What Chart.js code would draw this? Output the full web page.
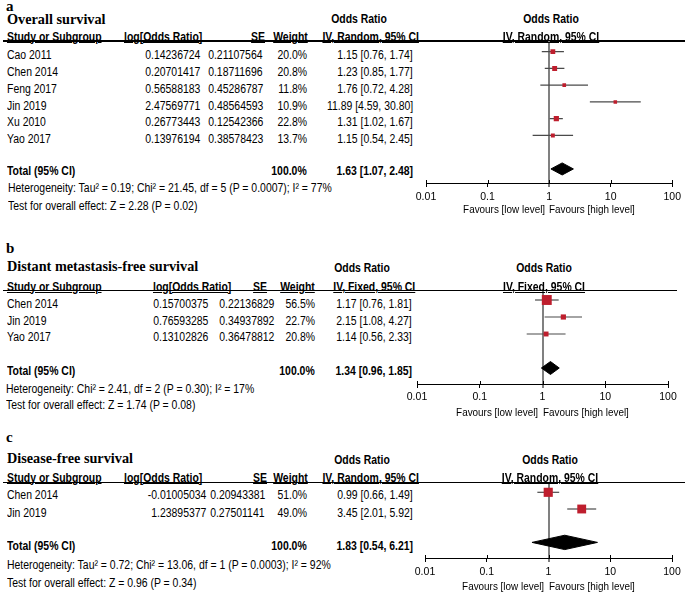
<!DOCTYPE html>
<html><head><meta charset="utf-8">
<script src="https://cdn.jsdelivr.net/npm/chart.js@4/dist/chart.umd.min.js"></script>
<style>
html,body{margin:0;padding:0;background:#fff;}
#page{position:relative;width:685px;height:595px;overflow:hidden;font-family:"Liberation Sans",Arial,sans-serif;color:#000;}
.t{position:absolute;white-space:nowrap;line-height:14px;height:14px;}
canvas{position:absolute;}
.hl{position:absolute;background:#000;}
</style></head><body><div id="page"></div>
<script>
// ================= DATA =================
const axisTicks = [0.01, 0.1, 1, 10, 100];
const axisTickLabels = ["0.01", "0.1", "1", "10", "100"];

// (a) Overall survival
const osStudies = ["Cao 2011", "Chen 2014", "Feng 2017", "Jin 2019", "Xu 2010", "Yao 2017"];
const osLogOR  = [0.14236724, 0.20701417, 0.56588183, 2.47569771, 0.26773443, 0.13976194];
const osSE     = [0.21107564, 0.18711696, 0.45286787, 0.48564593, 0.12542366, 0.38578423];
const osWeight = [20.0, 20.8, 11.8, 10.9, 22.8, 13.7];
const osOR     = [1.15, 1.23, 1.76, 11.89, 1.31, 1.15];
const osLo     = [0.76, 0.85, 0.72, 4.59, 1.02, 0.54];
const osHi     = [1.74, 1.77, 4.28, 30.80, 1.67, 2.45];
const osTotal  = [1.63, 1.07, 2.48];
const osHet    = "Heterogeneity: Tau² = 0.19; Chi² = 21.45, df = 5 (P = 0.0007); I² = 77%";
const osTest   = "Test for overall effect: Z = 2.28 (P = 0.02)";

// (b) Distant metastasis-free survival
const dmStudies = ["Chen 2014", "Jin 2019", "Yao 2017"];
const dmLogOR  = [0.15700375, 0.76593285, 0.13102826];
const dmSE     = [0.22136829, 0.34937892, 0.36478812];
const dmWeight = [56.5, 22.7, 20.8];
const dmOR     = [1.17, 2.15, 1.14];
const dmLo     = [0.76, 1.08, 0.56];
const dmHi     = [1.81, 4.27, 2.33];
const dmTotal  = [1.34, 0.96, 1.85];
const dmHet    = "Heterogeneity: Chi² = 2.41, df = 2 (P = 0.30); I² = 17%";
const dmTest   = "Test for overall effect: Z = 1.74 (P = 0.08)";

// (c) Disease-free survival
const dfStudies = ["Chen 2014", "Jin 2019"];
const dfLogOR  = [-0.01005034, 1.23895377];
const dfSE     = [0.20943381, 0.27501141];
const dfWeight = [51.0, 49.0];
const dfOR     = [0.99, 3.45];
const dfLo     = [0.66, 2.01];
const dfHi     = [1.49, 5.92];
const dfTotal  = [1.83, 0.54, 6.21];
const dfHet    = "Heterogeneity: Tau² = 0.72; Chi² = 13.06, df = 1 (P = 0.0003); I² = 92%";
const dfTest   = "Test for overall effect: Z = 0.96 (P = 0.34)";

// ================= LAYOUT / STYLE =================
const RED = "#BE1E2D";
const FONT = '"Liberation Sans", Arial, sans-serif';
const TXT = 12, SQZ = 0.87;
Chart.defaults.font.family = FONT;

const layoutA = {
  letter: "a", letterY: 6, title: "Overall survival", titleY: 19,
  orHeadX: 359, orHeadY: 19, headY: 36.5, method: "IV, Random, 95% CI",
  line: { y: 41, x0: 3, x1: 685 },
  col: { study: 7, logHead: 124, seHead: 265, wHead: 308, ciHead: 419, logVal: 200, seVal: 263, wVal: 307, ciVal: 413 },
  rowY0: 55, rowDy: 16.85, totalY: 171, hetY: 188, testY: 206, hetX: 8,
  plot: { left: 426, right: 673, top: 41, bottom: 183, sq0: 51.7, sqDy: 16.75, totalRow: 7, dHalf: 0.36, favY: 209, tickPad: 4 }
};
const layoutB = {
  letter: "b", letterY: 248, title: "Distant metastasis-free survival", titleY: 266,
  orHeadX: 362, orHeadY: 268, headY: 286.5, method: "IV, Fixed, 95% CI",
  line: { y: 290.5, x0: 3, x1: 677 },
  col: { study: 7, logHead: 153, seHead: 267, wHead: 315, ciHead: 415, logVal: 208, seVal: 274, wVal: 315, ciVal: 412 },
  rowY0: 304, rowDy: 16.5, totalY: 371, hetY: 389, testY: 405, hetX: 6,
  plot: { left: 417, right: 668, top: 291, bottom: 384, sq0: 300, sqDy: 17, totalRow: 4, dHalf: 0.38, favY: 412, tickPad: 3 }
};
const layoutC = {
  letter: "c", letterY: 437, title: "Disease-free survival", titleY: 458,
  orHeadX: 362, orHeadY: 460, headY: 477.5, method: "IV, Random, 95% CI",
  line: { y: 482.5, x0: 3, x1: 685 },
  col: { study: 7, logHead: 124, seHead: 267, wHead: 308, ciHead: 419, logVal: 206, seVal: 265, wVal: 307, ciVal: 413 },
  rowY0: 494.5, rowDy: 18.5, totalY: 546, hetY: 565, testY: 583, hetX: 7,
  plot: { left: 425, right: 672, top: 483, bottom: 558, sq0: 492.3, sqDy: 16.7, totalRow: 3, dHalf: 0.43, favY: 586, tickPad: 3.5 }
};

// ================= HELPERS =================
const page = document.getElementById("page");
function T(txt, x, y, o = {}) {
  const el = document.createElement("div");
  el.className = "t";
  el.textContent = txt;
  el.style.fontSize = (o.size || TXT) + "px";
  if (o.bold) el.style.fontWeight = "bold";
  if (o.serif) el.style.fontFamily = '"Liberation Serif", "Times New Roman", serif';
  if (o.u) el.style.textDecoration = "underline";
  el.style.top = (y - 7) + "px";
  const align = o.align || "left";
  if (align === "left") { el.style.left = x + "px"; el.style.transformOrigin = "left center"; }
  else if (align === "right") { el.style.right = (685 - x) + "px"; el.style.transformOrigin = "right center"; }
  else { el.style.left = (x - 300) + "px"; el.style.width = "600px"; el.style.textAlign = "center"; }
  el.style.transform = "scaleX(" + (o.sx || SQZ) + ")";
  page.appendChild(el);
}
function HL(l) {
  const el = document.createElement("div");
  el.className = "hl";
  el.style.left = l.x0 + "px"; el.style.width = (l.x1 - l.x0) + "px";
  el.style.top = (l.y - 0.75) + "px"; el.style.height = "1.5px";
  page.appendChild(el);
}
function fmtCI(o, l, h) { return o.toFixed(2) + " [" + l.toFixed(2) + ", " + h.toFixed(2) + "]"; }

const tickUp = {
  id: "tickUp",
  afterDraw(chart) {
    const sx = chart.scales.x, ctx = chart.ctx, y = chart.chartArea.bottom;
    ctx.save(); ctx.strokeStyle = "#000"; ctx.lineWidth = 1;
    sx.ticks.forEach(t => {
      const x = Math.round(sx.getPixelForValue(t.value)) + 0.5;
      ctx.beginPath(); ctx.moveTo(x, y - 3); ctx.lineTo(x, y); ctx.stroke();
    });
    ctx.restore();
  }
};

function panel(d, L) {
  // --- table text ---
  T(L.letter, 6, L.letterY, { serif: true, bold: true, size: 15, sx: 1 });
  T(L.title, 7, L.titleY, { serif: true, bold: true, size: 15, sx: 0.95 });
  T("Odds Ratio", L.orHeadX, L.orHeadY, { bold: true, align: "center" });
  T("Study or Subgroup", L.col.study, L.headY, { bold: true, u: true });
  T("log[Odds Ratio]", L.col.logHead, L.headY, { bold: true, u: true });
  T("SE", L.col.seHead, L.headY, { bold: true, u: true, align: "right" });
  T("Weight", L.col.wHead, L.headY, { bold: true, u: true, align: "right" });
  T(L.method, L.col.ciHead, L.headY, { bold: true, u: true, align: "right" });
  HL(L.line);
  d.studies.forEach((s, i) => {
    const y = L.rowY0 + i * L.rowDy;
    T(s, L.col.study, y);
    T(d.logOR[i].toFixed(8), L.col.logVal, y, { align: "right" });
    T(d.se[i].toFixed(8), L.col.seVal, y, { align: "right" });
    T(d.weight[i].toFixed(1) + "%", L.col.wVal, y, { align: "right" });
    T(fmtCI(d.or[i], d.lo[i], d.hi[i]), L.col.ciVal, y, { align: "right" });
  });
  const wSum = d.weight.reduce((a, b) => a + b, 0);
  T("Total (95% CI)", L.col.study, L.totalY, { bold: true });
  T(wSum.toFixed(1) + "%", L.col.wVal, L.totalY, { bold: true, align: "right" });
  T(fmtCI(d.total[0], d.total[1], d.total[2]), L.col.ciVal, L.totalY, { bold: true, align: "right" });
  T(d.het, L.hetX, L.hetY);
  T(d.test, L.hetX, L.testY);

  // --- forest plot ---
  const P = L.plot;
  const cx = 395, W = 290, AX = 24, cy = P.top - 12;
  const H = Math.ceil(P.bottom - cy + AX + 2);
  const cv = document.createElement("canvas");
  cv.width = W; cv.height = H;
  cv.style.left = cx + "px"; cv.style.top = cy + "px";
  cv.style.width = W + "px"; cv.style.height = H + "px";
  page.appendChild(cv);
  const pad = { left: P.left - cx, right: cx + W - P.right, top: P.top - cy, bottom: H - (P.bottom - cy) - AX };

  const rows = d.studies.map((_, i) => i);
  const T0 = P.totalRow, h = P.dHalf;
  const datasets = [];
  datasets.push({
    type: "scatter", label: "Studies",
    data: rows.map(i => ({ x: d.or[i], y: i })),
    pointStyle: "rect",
    pointRadius: d.weight.map(w => (2 + 0.14 * w) / Math.SQRT2),
    pointHoverRadius: d.weight.map(w => (2 + 0.14 * w) / Math.SQRT2),
    backgroundColor: RED, borderWidth: 0, order: 0
  });
  datasets.push({
    type: "line", label: "Total",
    data: [
      { x: d.total[1], y: T0 }, { x: d.total[0], y: T0 - h },
      { x: d.total[2], y: T0 }, { x: d.total[0], y: T0 + h }, { x: d.total[1], y: T0 }
    ],
    fill: "shape", backgroundColor: "#000", borderColor: "#000", borderWidth: 1,
    pointRadius: 0, tension: 0, order: 1
  });
  rows.forEach(i => datasets.push({
    type: "line", label: d.studies[i] + " CI",
    data: [{ x: d.lo[i], y: i }, { x: d.hi[i], y: i }],
    borderColor: "#4a4a4a", borderWidth: 1.2, pointRadius: 0, fill: false, order: 2
  }));

  const chart = new Chart(cv, {
    type: "scatter",
    data: { datasets },
    options: {
      responsive: false, animation: false, events: [],
      layout: { padding: pad },
      plugins: { legend: { display: false }, tooltip: { enabled: false }, title: { display: false } },
      scales: {
        x: {
          type: "logarithmic", min: axisTicks[0], max: axisTicks[axisTicks.length - 1], position: "bottom",
          afterBuildTicks: s => { s.ticks = axisTicks.map(v => ({ value: v })); },
          afterFit: s => { s.height = AX; },
          border: { display: true, color: "#000", width: 1 },
          grid: {
            drawOnChartArea: true, drawTicks: true, tickLength: 4, tickColor: "#000", tickWidth: 1,
            color: c => (c.tick && c.tick.value === 1) ? "#808080" : "rgba(0,0,0,0)",
            lineWidth: c => (c.tick && c.tick.value === 1) ? 2 : 1
          },
          ticks: {
            autoSkip: false, maxRotation: 0, minRotation: 0, padding: P.tickPad, color: "#000",
            font: { family: FONT, size: 10.5 },
            callback: (v, i) => axisTickLabels[i]
          }
        },
        y: {
          type: "linear", reverse: true, display: false,
          min: (P.top - P.sq0) / P.sqDy, max: (P.bottom - P.sq0) / P.sqDy
        }
      }
    },
    plugins: [tickUp]
  });

  // align chart area precisely to the target plot box
  const ca = chart.chartArea;
  const dL = (P.left - cx) - ca.left, dR = (cx + W - P.right) - (W - ca.right);
  const dT = (P.top - cy) - ca.top, dB = ca.bottom - (P.bottom - cy);
  if (Math.abs(dL) + Math.abs(dR) + Math.abs(dT) + Math.abs(dB) > 0.3) {
    chart.options.layout.padding = { left: pad.left + dL, right: pad.right + dR, top: pad.top + dT, bottom: pad.bottom + dB };
    chart.update();
  }

  const xOne = cx + chart.scales.x.getPixelForValue(1);
  T("Odds Ratio", xOne + 1.5, L.orHeadY, { bold: true, align: "center" });
  T(L.method, xOne + 1.5, L.headY, { bold: true, u: true, align: "center" });
  T("Favours [low level]", xOne - 4, P.favY, { size: 11, align: "right", sx: 0.9 });
  T("Favours [high level]", xOne, P.favY, { size: 11, sx: 0.9 });
}

panel({ studies: osStudies, logOR: osLogOR, se: osSE, weight: osWeight, or: osOR, lo: osLo, hi: osHi, total: osTotal, het: osHet, test: osTest }, layoutA);
panel({ studies: dmStudies, logOR: dmLogOR, se: dmSE, weight: dmWeight, or: dmOR, lo: dmLo, hi: dmHi, total: dmTotal, het: dmHet, test: dmTest }, layoutB);
panel({ studies: dfStudies, logOR: dfLogOR, se: dfSE, weight: dfWeight, or: dfOR, lo: dfLo, hi: dfHi, total: dfTotal, het: dfHet, test: dfTest }, layoutC);
</script>
</body></html>
